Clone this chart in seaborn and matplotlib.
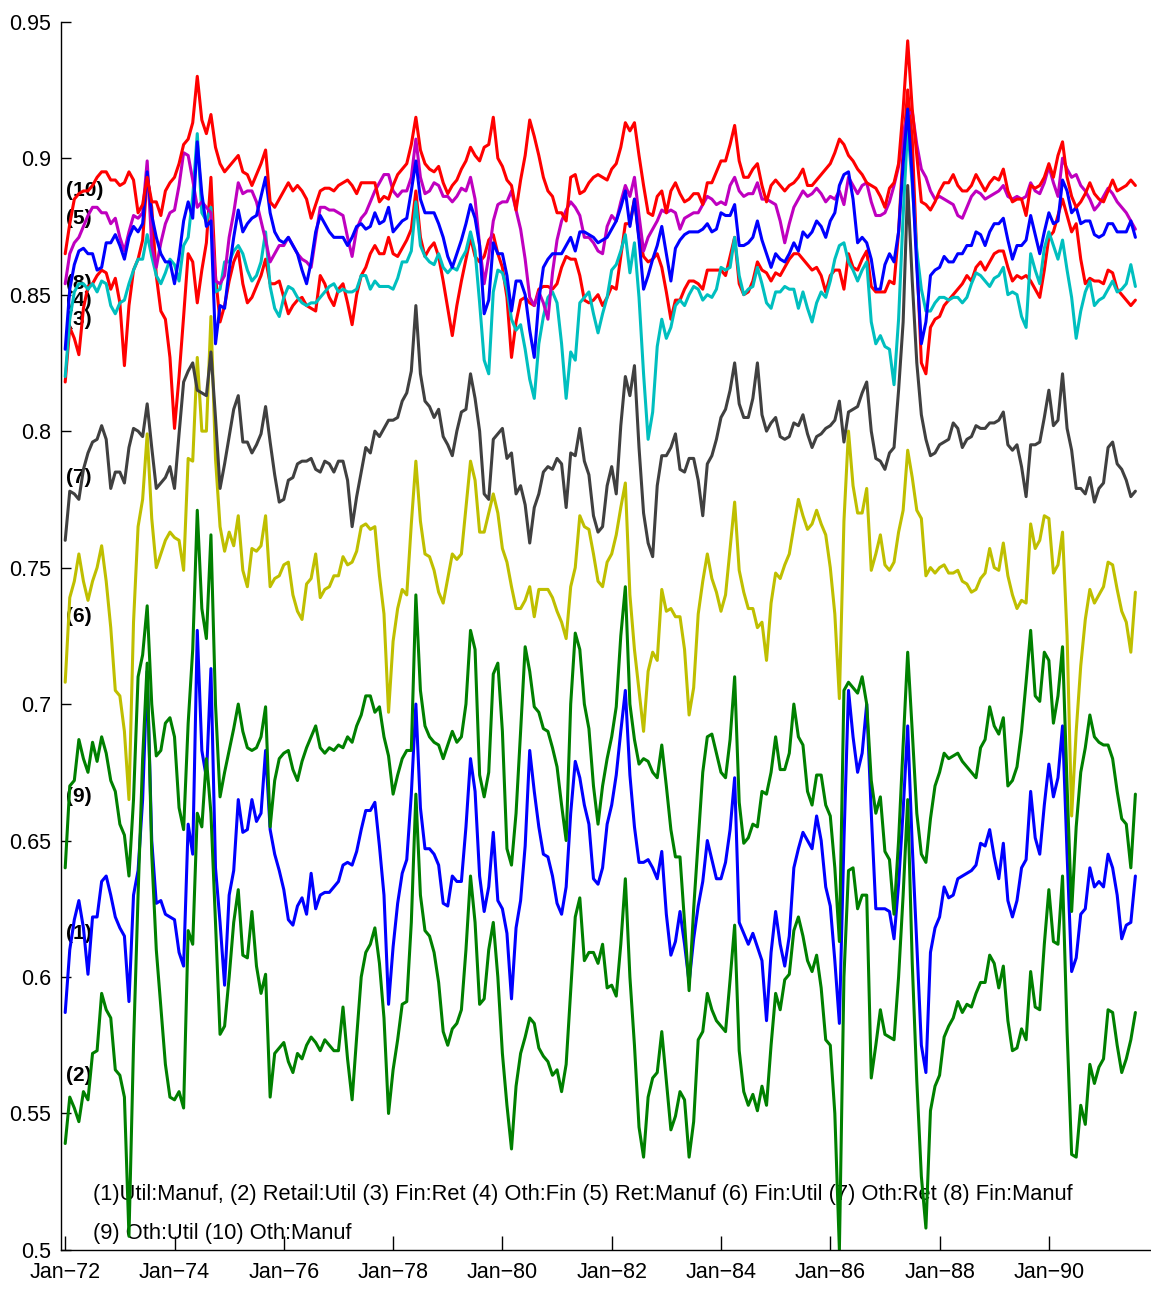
import numpy as np
import pandas as pd
import matplotlib; matplotlib.use("Agg")
import matplotlib.pyplot as plt
import seaborn as sns

# monthly series, Jan-72 .. Aug-91 (one row per year)
UTIL_MANUF = [  # (1)
    0.587,0.610,0.621,0.628,0.618,0.601,0.622,0.622,0.635,0.637,0.630,0.622,
    0.618,0.615,0.591,0.630,0.639,0.665,0.712,0.650,0.627,0.628,0.623,0.622,
    0.621,0.609,0.604,0.656,0.645,0.727,0.683,0.673,0.713,0.640,0.620,0.597,
    0.630,0.639,0.665,0.653,0.654,0.665,0.657,0.660,0.683,0.654,0.645,0.639,
    0.632,0.621,0.619,0.626,0.629,0.623,0.638,0.625,0.630,0.631,0.631,0.633,
    0.635,0.641,0.642,0.641,0.646,0.654,0.661,0.661,0.664,0.648,0.630,0.590,
    0.611,0.627,0.638,0.643,0.667,0.700,0.662,0.647,0.647,0.645,0.641,0.627,
    0.626,0.637,0.635,0.635,0.655,0.680,0.668,0.637,0.624,0.633,0.653,0.628,
    0.625,0.616,0.592,0.618,0.628,0.648,0.683,0.668,0.655,0.645,0.644,0.637,
    0.627,0.623,0.633,0.660,0.679,0.673,0.663,0.656,0.636,0.634,0.640,0.656,
    0.663,0.674,0.690,0.705,0.674,0.655,0.642,0.642,0.643,0.640,0.636,0.646,
    0.623,0.608,0.613,0.624,0.612,0.598,0.614,0.626,0.635,0.650,0.643,0.636,
    0.636,0.642,0.654,0.673,0.620,0.616,0.612,0.616,0.611,0.606,0.584,0.609,
    0.624,0.612,0.604,0.615,0.640,0.647,0.653,0.650,0.647,0.659,0.650,0.633,
    0.626,0.606,0.583,0.650,0.705,0.688,0.675,0.682,0.700,0.660,0.625,0.625,
    0.625,0.624,0.614,0.634,0.661,0.692,0.648,0.612,0.575,0.565,0.609,0.618,
    0.622,0.633,0.629,0.630,0.636,0.637,0.638,0.639,0.641,0.649,0.648,0.654,
    0.644,0.636,0.649,0.628,0.622,0.628,0.640,0.643,0.668,0.651,0.645,0.663,
    0.678,0.666,0.673,0.692,0.645,0.602,0.607,0.623,0.625,0.640,0.633,0.635,
    0.633,0.645,0.640,0.630,0.614,0.619,0.620,0.637]
RETAIL_UTIL = [  # (2)
    0.539,0.556,0.552,0.547,0.558,0.555,0.572,0.573,0.594,0.588,0.585,0.566,
    0.564,0.556,0.505,0.575,0.630,0.680,0.715,0.645,0.610,0.589,0.568,0.556,
    0.555,0.558,0.552,0.617,0.612,0.660,0.655,0.680,0.660,0.620,0.579,0.582,
    0.600,0.620,0.632,0.608,0.607,0.624,0.604,0.594,0.601,0.556,0.572,0.574,
    0.576,0.569,0.565,0.572,0.570,0.575,0.578,0.576,0.573,0.577,0.575,0.573,
    0.573,0.589,0.570,0.555,0.578,0.600,0.609,0.612,0.618,0.605,0.585,0.550,
    0.566,0.577,0.590,0.591,0.620,0.667,0.630,0.617,0.615,0.609,0.598,0.580,
    0.575,0.581,0.583,0.588,0.610,0.637,0.620,0.590,0.592,0.610,0.620,0.600,
    0.572,0.553,0.537,0.560,0.572,0.578,0.585,0.583,0.574,0.571,0.569,0.564,
    0.566,0.558,0.568,0.595,0.622,0.629,0.606,0.609,0.609,0.605,0.612,0.596,
    0.597,0.593,0.612,0.636,0.600,0.575,0.545,0.534,0.556,0.563,0.565,0.580,
    0.562,0.544,0.549,0.558,0.555,0.534,0.547,0.577,0.580,0.594,0.588,0.584,
    0.582,0.580,0.599,0.619,0.573,0.558,0.553,0.557,0.551,0.560,0.553,0.575,
    0.594,0.588,0.599,0.601,0.617,0.622,0.615,0.606,0.602,0.608,0.596,0.577,
    0.575,0.550,0.500,0.600,0.639,0.640,0.625,0.630,0.630,0.563,0.575,0.588,
    0.579,0.578,0.577,0.600,0.630,0.665,0.605,0.562,0.527,0.508,0.551,0.560,
    0.564,0.578,0.582,0.585,0.591,0.587,0.590,0.589,0.594,0.598,0.598,0.608,
    0.605,0.596,0.604,0.584,0.573,0.574,0.581,0.577,0.602,0.589,0.588,0.612,
    0.632,0.613,0.612,0.637,0.580,0.535,0.534,0.553,0.546,0.568,0.561,0.567,
    0.570,0.588,0.587,0.575,0.565,0.570,0.577,0.587]
FIN_RET = [  # (3)
    0.818,0.838,0.834,0.828,0.845,0.853,0.854,0.857,0.859,0.858,0.852,0.856,
    0.847,0.824,0.846,0.859,0.863,0.870,0.893,0.882,0.857,0.844,0.841,0.827,
    0.801,0.820,0.842,0.865,0.862,0.847,0.859,0.869,0.893,0.857,0.840,0.846,
    0.855,0.862,0.866,0.854,0.847,0.849,0.853,0.857,0.863,0.854,0.854,0.855,
    0.849,0.843,0.846,0.848,0.849,0.846,0.845,0.844,0.857,0.854,0.849,0.846,
    0.852,0.854,0.847,0.839,0.850,0.857,0.860,0.865,0.868,0.865,0.865,0.871,
    0.865,0.864,0.867,0.870,0.874,0.888,0.871,0.864,0.867,0.869,0.864,0.855,
    0.845,0.835,0.846,0.855,0.863,0.871,0.864,0.862,0.864,0.870,0.872,0.865,
    0.860,0.849,0.827,0.840,0.848,0.849,0.847,0.846,0.852,0.853,0.853,0.852,
    0.854,0.860,0.864,0.863,0.863,0.857,0.848,0.847,0.848,0.850,0.846,0.849,
    0.853,0.852,0.864,0.876,0.876,0.885,0.871,0.864,0.862,0.863,0.865,0.860,
    0.851,0.841,0.848,0.848,0.852,0.855,0.855,0.854,0.852,0.859,0.859,0.859,
    0.859,0.857,0.864,0.871,0.854,0.850,0.851,0.855,0.862,0.859,0.858,0.855,
    0.858,0.857,0.860,0.863,0.865,0.865,0.863,0.861,0.859,0.860,0.857,0.851,
    0.857,0.859,0.859,0.852,0.865,0.860,0.859,0.863,0.866,0.853,0.851,0.851,
    0.851,0.855,0.854,0.873,0.903,0.925,0.907,0.864,0.825,0.821,0.838,0.841,
    0.842,0.846,0.848,0.850,0.852,0.854,0.857,0.855,0.860,0.862,0.859,0.862,
    0.865,0.866,0.866,0.860,0.855,0.857,0.856,0.857,0.855,0.852,0.849,0.859,
    0.871,0.873,0.879,0.885,0.879,0.873,0.876,0.863,0.854,0.856,0.855,0.855,
    0.854,0.859,0.858,0.852,0.850,0.848,0.846,0.848]
OTH_FIN = [  # (4)
    0.820,0.841,0.851,0.854,0.854,0.852,0.854,0.851,0.855,0.854,0.846,0.843,
    0.847,0.848,0.854,0.859,0.863,0.863,0.872,0.864,0.857,0.854,0.858,0.863,
    0.861,0.855,0.868,0.871,0.886,0.909,0.880,0.877,0.882,0.851,0.852,0.862,
    0.862,0.866,0.868,0.865,0.859,0.855,0.857,0.862,0.873,0.853,0.845,0.842,
    0.849,0.853,0.852,0.849,0.847,0.846,0.847,0.847,0.849,0.851,0.853,0.854,
    0.851,0.852,0.851,0.851,0.852,0.857,0.857,0.852,0.855,0.853,0.853,0.853,
    0.852,0.856,0.862,0.862,0.866,0.884,0.868,0.864,0.862,0.861,0.865,0.860,
    0.858,0.860,0.859,0.863,0.866,0.873,0.866,0.847,0.826,0.821,0.851,0.859,
    0.858,0.852,0.841,0.837,0.839,0.830,0.819,0.812,0.832,0.842,0.849,0.851,
    0.847,0.832,0.812,0.829,0.826,0.847,0.849,0.851,0.843,0.836,0.843,0.849,
    0.859,0.861,0.866,0.872,0.858,0.869,0.849,0.821,0.797,0.807,0.831,0.841,
    0.834,0.838,0.846,0.848,0.846,0.850,0.853,0.852,0.848,0.850,0.849,0.852,
    0.860,0.859,0.860,0.871,0.857,0.850,0.852,0.853,0.860,0.854,0.847,0.845,
    0.851,0.851,0.853,0.852,0.852,0.845,0.851,0.845,0.840,0.847,0.851,0.849,
    0.855,0.863,0.868,0.869,0.862,0.859,0.855,0.859,0.862,0.840,0.832,0.835,
    0.831,0.830,0.817,0.841,0.879,0.912,0.890,0.866,0.852,0.844,0.844,0.847,
    0.849,0.849,0.848,0.849,0.849,0.847,0.849,0.854,0.858,0.857,0.855,0.853,
    0.856,0.857,0.860,0.850,0.851,0.850,0.842,0.838,0.865,0.859,0.854,0.867,
    0.873,0.868,0.863,0.870,0.859,0.849,0.834,0.844,0.851,0.855,0.846,0.848,
    0.849,0.852,0.855,0.851,0.852,0.854,0.861,0.853]
RET_MANUF = [  # (5)
    0.854,0.865,0.869,0.871,0.875,0.879,0.882,0.882,0.880,0.880,0.876,0.878,
    0.871,0.866,0.873,0.879,0.878,0.880,0.899,0.868,0.860,0.869,0.876,0.880,
    0.881,0.890,0.902,0.901,0.892,0.882,0.884,0.882,0.880,0.855,0.854,0.857,
    0.871,0.880,0.891,0.887,0.888,0.888,0.884,0.877,0.870,0.862,0.865,0.868,
    0.868,0.871,0.868,0.865,0.863,0.862,0.860,0.871,0.882,0.882,0.881,0.881,
    0.880,0.879,0.871,0.864,0.874,0.878,0.880,0.884,0.888,0.891,0.894,0.894,
    0.888,0.886,0.888,0.888,0.893,0.907,0.893,0.887,0.888,0.891,0.890,0.886,
    0.886,0.884,0.886,0.889,0.888,0.893,0.885,0.868,0.854,0.864,0.877,0.883,
    0.884,0.884,0.888,0.881,0.874,0.863,0.849,0.846,0.851,0.847,0.841,0.858,
    0.870,0.877,0.881,0.884,0.882,0.879,0.871,0.871,0.869,0.866,0.865,0.875,
    0.879,0.877,0.884,0.890,0.886,0.893,0.879,0.866,0.871,0.874,0.877,0.881,
    0.880,0.881,0.880,0.874,0.878,0.879,0.880,0.880,0.883,0.886,0.885,0.883,
    0.884,0.883,0.890,0.893,0.888,0.886,0.887,0.887,0.891,0.885,0.885,0.884,
    0.883,0.877,0.869,0.876,0.882,0.885,0.888,0.886,0.887,0.889,0.887,0.884,
    0.886,0.885,0.888,0.883,0.893,0.890,0.887,0.890,0.891,0.884,0.879,0.879,
    0.880,0.884,0.890,0.897,0.909,0.916,0.917,0.905,0.896,0.893,0.888,0.885,
    0.886,0.885,0.884,0.883,0.879,0.878,0.882,0.886,0.888,0.887,0.885,0.886,
    0.887,0.888,0.890,0.886,0.885,0.886,0.885,0.886,0.891,0.888,0.887,0.891,
    0.897,0.891,0.886,0.900,0.896,0.893,0.894,0.890,0.888,0.885,0.881,0.883,
    0.886,0.889,0.887,0.884,0.882,0.880,0.877,0.874]
FIN_UTIL = [  # (6)
    0.708,0.739,0.745,0.755,0.745,0.738,0.745,0.750,0.758,0.745,0.728,0.705,
    0.703,0.690,0.665,0.730,0.765,0.775,0.799,0.768,0.750,0.755,0.760,0.763,
    0.761,0.760,0.749,0.790,0.789,0.827,0.800,0.800,0.842,0.790,0.765,0.756,
    0.763,0.758,0.769,0.749,0.743,0.757,0.756,0.758,0.769,0.743,0.746,0.747,
    0.751,0.752,0.740,0.734,0.731,0.744,0.746,0.755,0.739,0.742,0.743,0.747,
    0.747,0.754,0.751,0.752,0.756,0.765,0.766,0.764,0.765,0.747,0.733,0.697,
    0.723,0.735,0.742,0.740,0.766,0.789,0.767,0.755,0.754,0.749,0.741,0.737,
    0.746,0.755,0.753,0.755,0.772,0.789,0.782,0.763,0.763,0.770,0.777,0.770,
    0.757,0.752,0.743,0.735,0.735,0.738,0.743,0.732,0.742,0.742,0.742,0.739,
    0.734,0.730,0.724,0.743,0.750,0.769,0.765,0.764,0.755,0.745,0.743,0.752,
    0.755,0.762,0.772,0.781,0.740,0.720,0.705,0.690,0.712,0.719,0.716,0.742,
    0.734,0.735,0.732,0.732,0.720,0.696,0.706,0.733,0.745,0.755,0.746,0.741,
    0.734,0.740,0.757,0.774,0.749,0.741,0.735,0.735,0.728,0.730,0.716,0.737,
    0.748,0.746,0.751,0.755,0.765,0.775,0.769,0.764,0.766,0.771,0.766,0.762,
    0.750,0.733,0.702,0.767,0.800,0.780,0.770,0.770,0.779,0.749,0.755,0.762,
    0.751,0.749,0.752,0.763,0.771,0.793,0.783,0.771,0.768,0.747,0.750,0.748,
    0.750,0.751,0.748,0.748,0.749,0.745,0.744,0.741,0.742,0.746,0.748,0.757,
    0.750,0.749,0.759,0.747,0.740,0.735,0.738,0.737,0.766,0.757,0.760,0.769,
    0.768,0.748,0.751,0.763,0.725,0.659,0.690,0.714,0.731,0.742,0.737,0.740,
    0.743,0.752,0.751,0.742,0.734,0.730,0.719,0.741]
OTH_RET = [  # (7)
    0.760,0.778,0.777,0.775,0.786,0.792,0.796,0.797,0.802,0.797,0.779,0.785,
    0.785,0.781,0.794,0.801,0.800,0.798,0.810,0.794,0.779,0.781,0.783,0.787,
    0.779,0.799,0.818,0.822,0.825,0.815,0.814,0.813,0.829,0.805,0.779,0.788,
    0.798,0.808,0.813,0.796,0.796,0.792,0.795,0.799,0.809,0.796,0.784,0.774,
    0.775,0.782,0.783,0.788,0.789,0.789,0.790,0.786,0.785,0.789,0.788,0.785,
    0.789,0.789,0.782,0.765,0.776,0.785,0.794,0.792,0.800,0.798,0.801,0.804,
    0.804,0.805,0.811,0.814,0.822,0.846,0.821,0.811,0.809,0.805,0.808,0.798,
    0.795,0.791,0.800,0.807,0.808,0.821,0.812,0.800,0.777,0.775,0.797,0.799,
    0.801,0.790,0.792,0.777,0.780,0.773,0.759,0.772,0.777,0.785,0.787,0.786,
    0.790,0.788,0.772,0.792,0.791,0.801,0.789,0.784,0.769,0.763,0.765,0.780,
    0.787,0.777,0.802,0.820,0.813,0.824,0.794,0.770,0.759,0.754,0.780,0.791,
    0.791,0.794,0.799,0.786,0.785,0.790,0.790,0.782,0.769,0.788,0.791,0.797,
    0.805,0.808,0.815,0.825,0.810,0.805,0.805,0.812,0.825,0.806,0.800,0.803,
    0.805,0.798,0.797,0.798,0.803,0.802,0.806,0.799,0.794,0.798,0.799,0.801,
    0.802,0.804,0.811,0.796,0.807,0.808,0.809,0.814,0.818,0.800,0.790,0.789,
    0.786,0.792,0.794,0.815,0.840,0.890,0.855,0.825,0.806,0.797,0.791,0.792,
    0.795,0.796,0.797,0.803,0.801,0.794,0.797,0.798,0.802,0.801,0.801,0.803,
    0.803,0.804,0.807,0.795,0.793,0.795,0.787,0.776,0.795,0.795,0.796,0.805,
    0.815,0.802,0.804,0.821,0.801,0.793,0.779,0.779,0.777,0.783,0.774,0.779,
    0.781,0.794,0.796,0.788,0.786,0.782,0.776,0.778]
FIN_MANUF = [  # (8)
    0.830,0.852,0.861,0.866,0.867,0.865,0.865,0.859,0.860,0.869,0.869,0.872,
    0.868,0.863,0.871,0.875,0.873,0.876,0.895,0.879,0.871,0.865,0.862,0.862,
    0.854,0.864,0.877,0.884,0.878,0.906,0.887,0.875,0.877,0.832,0.846,0.845,
    0.859,0.871,0.881,0.873,0.876,0.878,0.879,0.886,0.893,0.880,0.873,0.870,
    0.869,0.871,0.868,0.865,0.859,0.854,0.862,0.873,0.879,0.876,0.873,0.871,
    0.871,0.871,0.868,0.871,0.875,0.876,0.874,0.875,0.880,0.876,0.877,0.882,
    0.873,0.875,0.877,0.878,0.888,0.899,0.885,0.880,0.880,0.880,0.876,0.871,
    0.864,0.860,0.865,0.870,0.876,0.883,0.878,0.868,0.843,0.848,0.869,0.865,
    0.865,0.857,0.844,0.855,0.855,0.850,0.837,0.827,0.848,0.860,0.863,0.865,
    0.865,0.865,0.868,0.871,0.866,0.873,0.873,0.872,0.871,0.869,0.870,0.871,
    0.874,0.877,0.882,0.888,0.875,0.885,0.870,0.852,0.857,0.863,0.868,0.875,
    0.865,0.855,0.867,0.870,0.872,0.873,0.873,0.873,0.874,0.876,0.873,0.874,
    0.880,0.879,0.879,0.883,0.868,0.868,0.869,0.871,0.877,0.870,0.865,0.860,
    0.865,0.863,0.862,0.865,0.869,0.866,0.873,0.871,0.873,0.877,0.875,0.871,
    0.877,0.880,0.890,0.894,0.895,0.885,0.869,0.871,0.869,0.863,0.852,0.852,
    0.861,0.865,0.862,0.873,0.898,0.918,0.893,0.860,0.832,0.840,0.857,0.859,
    0.860,0.864,0.862,0.862,0.865,0.865,0.868,0.868,0.873,0.872,0.868,0.873,
    0.876,0.876,0.878,0.870,0.863,0.868,0.868,0.870,0.879,0.872,0.865,0.873,
    0.880,0.876,0.877,0.892,0.888,0.880,0.882,0.876,0.877,0.877,0.872,0.871,
    0.872,0.876,0.876,0.873,0.873,0.873,0.877,0.871]
OTH_UTIL = [  # (9)
    0.640,0.670,0.672,0.687,0.680,0.675,0.686,0.679,0.688,0.682,0.672,0.668,
    0.656,0.652,0.637,0.665,0.710,0.718,0.736,0.700,0.681,0.683,0.693,0.695,
    0.688,0.662,0.654,0.693,0.720,0.771,0.735,0.724,0.762,0.700,0.666,0.675,
    0.683,0.691,0.700,0.690,0.684,0.683,0.684,0.688,0.699,0.655,0.672,0.680,
    0.682,0.683,0.676,0.672,0.679,0.684,0.688,0.692,0.684,0.682,0.684,0.683,
    0.685,0.684,0.688,0.686,0.692,0.696,0.703,0.703,0.697,0.699,0.688,0.681,
    0.667,0.674,0.680,0.683,0.683,0.740,0.705,0.692,0.688,0.686,0.685,0.680,
    0.685,0.690,0.686,0.688,0.700,0.727,0.720,0.674,0.666,0.675,0.711,0.715,
    0.690,0.647,0.641,0.660,0.690,0.721,0.712,0.699,0.697,0.691,0.690,0.684,
    0.677,0.663,0.650,0.700,0.726,0.720,0.700,0.691,0.670,0.656,0.670,0.680,
    0.688,0.699,0.725,0.743,0.700,0.687,0.678,0.680,0.679,0.675,0.673,0.685,
    0.670,0.654,0.644,0.644,0.620,0.595,0.625,0.650,0.675,0.688,0.689,0.682,
    0.675,0.673,0.687,0.710,0.664,0.649,0.651,0.656,0.655,0.668,0.667,0.675,
    0.688,0.676,0.676,0.682,0.700,0.688,0.685,0.668,0.663,0.674,0.674,0.663,
    0.659,0.640,0.613,0.705,0.708,0.706,0.704,0.710,0.700,0.672,0.660,0.666,
    0.646,0.643,0.623,0.650,0.685,0.719,0.690,0.660,0.645,0.642,0.658,0.670,
    0.675,0.682,0.680,0.681,0.682,0.679,0.677,0.675,0.673,0.684,0.687,0.699,
    0.692,0.689,0.695,0.670,0.672,0.677,0.690,0.708,0.727,0.703,0.701,0.719,
    0.716,0.693,0.703,0.721,0.670,0.624,0.655,0.675,0.684,0.696,0.688,0.686,
    0.685,0.685,0.680,0.668,0.658,0.656,0.640,0.667]
OTH_MANUF = [  # (10)
    0.865,0.876,0.885,0.887,0.888,0.888,0.890,0.893,0.895,0.895,0.892,0.892,
    0.890,0.891,0.895,0.892,0.880,0.883,0.893,0.884,0.884,0.879,0.888,0.891,
    0.893,0.898,0.905,0.907,0.913,0.930,0.914,0.909,0.916,0.904,0.898,0.895,
    0.897,0.899,0.901,0.895,0.894,0.890,0.894,0.898,0.903,0.884,0.882,0.885,
    0.888,0.891,0.888,0.890,0.888,0.885,0.878,0.883,0.888,0.889,0.889,0.888,
    0.890,0.891,0.892,0.890,0.887,0.891,0.891,0.891,0.891,0.884,0.886,0.885,
    0.890,0.894,0.896,0.898,0.905,0.915,0.903,0.898,0.896,0.895,0.897,0.891,
    0.887,0.890,0.892,0.896,0.899,0.904,0.901,0.899,0.904,0.905,0.915,0.900,
    0.897,0.892,0.890,0.881,0.892,0.901,0.914,0.908,0.901,0.893,0.888,0.886,
    0.880,0.880,0.877,0.893,0.894,0.887,0.888,0.891,0.893,0.894,0.893,0.892,
    0.896,0.898,0.904,0.913,0.910,0.913,0.901,0.890,0.880,0.879,0.886,0.888,
    0.880,0.888,0.891,0.887,0.884,0.885,0.887,0.887,0.883,0.891,0.891,0.895,
    0.899,0.899,0.905,0.912,0.899,0.893,0.893,0.896,0.898,0.890,0.884,0.890,
    0.892,0.890,0.888,0.890,0.891,0.893,0.896,0.890,0.890,0.892,0.894,0.896,
    0.898,0.902,0.907,0.905,0.901,0.899,0.896,0.894,0.891,0.890,0.889,0.886,
    0.882,0.889,0.891,0.898,0.918,0.943,0.918,0.901,0.884,0.883,0.881,0.884,
    0.888,0.891,0.891,0.894,0.890,0.888,0.888,0.890,0.894,0.891,0.888,0.891,
    0.893,0.892,0.896,0.888,0.884,0.885,0.885,0.879,0.890,0.889,0.890,0.893,
    0.898,0.893,0.901,0.906,0.893,0.886,0.882,0.884,0.887,0.891,0.887,0.885,
    0.884,0.888,0.892,0.888,0.889,0.890,0.892,0.890]

SERIES = ["(1)", "(2)", "(3)", "(4)", "(5)", "(6)", "(7)", "(8)", "(9)", "(10)"]
VALUES = [UTIL_MANUF, RETAIL_UTIL, FIN_RET, OTH_FIN, RET_MANUF,
          FIN_UTIL, OTH_RET, FIN_MANUF, OTH_UTIL, OTH_MANUF]
COLORS = ["#0000ff", "#008000", "#ff0000", "#00bfbf", "#bf00bf",
          "#bfbf00", "#404040", "#0000ff", "#008000", "#ff0000"]
LABEL_Y = [0.616, 0.564, 0.841, 0.848, 0.878, 0.732, 0.783, 0.854, 0.666, 0.888]

X_TICKS = [0, 24, 48, 72, 96, 120, 144, 168, 192, 216]
X_LABELS = ["Jan\u221272", "Jan\u221274", "Jan\u221276", "Jan\u221278", "Jan\u221280",
            "Jan\u221282", "Jan\u221284", "Jan\u221286", "Jan\u221288", "Jan\u221290"]
Y_TICKS = [0.5, 0.55, 0.6, 0.65, 0.7, 0.75, 0.8, 0.85, 0.9, 0.95]
Y_LABELS = ["0.5", "0.55", "0.6", "0.65", "0.7", "0.75", "0.8", "0.85", "0.9", "0.95"]

NOTE_1 = "(1)Util:Manuf, (2) Retail:Util (3) Fin:Ret (4) Oth:Fin (5) Ret:Manuf (6) Fin:Util (7) Oth:Ret (8) Fin:Manuf"
NOTE_2 = "(9) Oth:Util (10) Oth:Manuf"

frames = []
for name, vals in zip(SERIES, VALUES):
    frames.append(pd.DataFrame({"month": np.arange(len(vals)), "value": vals, "series": name}))
df = pd.concat(frames, ignore_index=True)

sns.set_style("ticks")
plt.rcParams["font.family"] = ["Liberation Sans", "DejaVu Sans"]
plt.rcParams["text.color"] = "black"

fig = plt.figure(figsize=(11.51, 12.93), dpi=100)
ax = fig.add_axes([0.0527, 0.0333, 0.9464, 0.9499])
sns.lineplot(data=df, x="month", y="value", hue="series", hue_order=SERIES,
             palette=dict(zip(SERIES, COLORS)), estimator=None, sort=False,
             linewidth=2.2, legend=False, ax=ax)

# series tags at the left edge, and the two-line key at the bottom
for name, y in zip(SERIES, LABEL_Y):
    ax.text(0.2, y, name, fontsize=15, fontweight="bold", color="black",
            ha="left", va="center", zorder=1)
ax.text(6.0, 0.5202, NOTE_1, fontsize=15.75, color="black", ha="left", va="center", zorder=1)
ax.text(6.0, 0.5059, NOTE_2, fontsize=15.75, color="black", ha="left", va="center", zorder=1)

ax.set_xlim(-1, 238.2)
ax.set_ylim(0.5, 0.95)
ax.set_xticks(X_TICKS)
ax.set_xticklabels(X_LABELS)
ax.set_yticks(Y_TICKS)
ax.set_yticklabels(Y_LABELS)
ax.tick_params(axis="both", direction="in", labelsize=15.5, colors="black",
               labelcolor="black", width=1)
ax.tick_params(axis="x", length=10, pad=9)
ax.tick_params(axis="y", length=7, pad=7)
ax.set_xlabel("")
ax.set_ylabel("")
sns.despine(ax=ax)
for s in ("left", "bottom"):
    ax.spines[s].set_color("black")
    ax.spines[s].set_linewidth(1)

fig.savefig("out.png", dpi=100)
